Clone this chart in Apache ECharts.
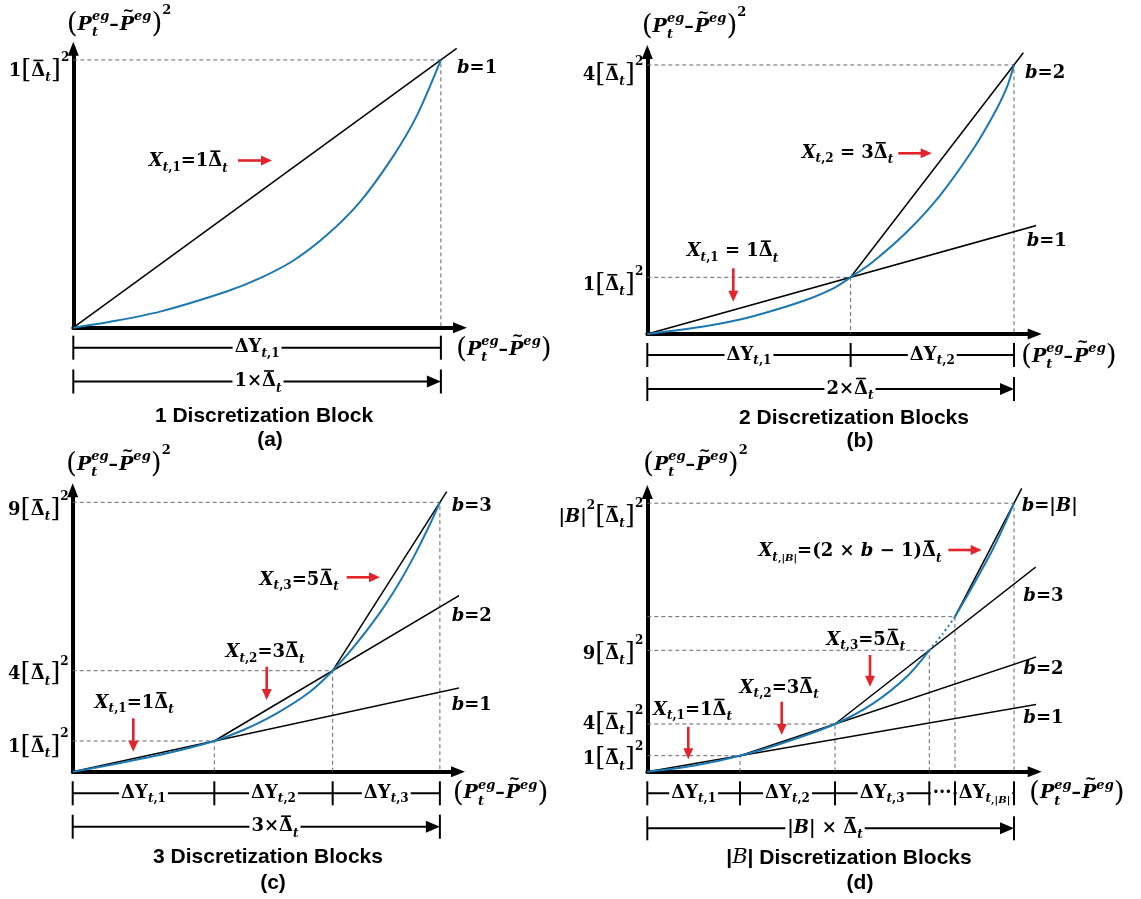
<!DOCTYPE html>
<html><head><meta charset="utf-8">
<script src="https://cdn.jsdelivr.net/npm/echarts@6/dist/echarts.min.js"></script>
<style>html,body{margin:0;padding:0;background:#fff}#c{width:1141px;height:899px}</style>
</head><body><div id="c"></div>
<script>
// ================= DATA =================
// x in units of the block width (Δ̄t), y in units of [Δ̄t]^2 (schematic)
const knotsA_x = [0, 1];
const knotsA_y = [0, 1];
const curveA = [[0,0],[0.1,0.022],[0.236,0.06],[0.417,0.135],[0.508,0.185],[0.598,0.25],[0.689,0.345],[0.780,0.47],[0.870,0.64],[0.934,0.79],[1,1]];

const knotsB_x = [0, 1.109, 2];
const knotsB_y = [0, 0.843, 4];
const curveB = [[0,0],[0.324,0.12],[0.506,0.215],[0.687,0.35],[0.869,0.51],[1.015,0.68],[1.109,0.843],[1.233,1.079],[1.415,1.516],[1.596,2.059],[1.778,2.751],[1.887,3.252],[1.960,3.661],[2,4]];

const knotsC_x = [0, 1.157, 2.124, 3];
const knotsC_y = [0, 1.026, 3.374, 9];
const curveC = [[0,0],[0.305,0.224],[0.577,0.447],[0.850,0.692],[1.157,1.026],[1.394,1.393],[1.667,1.951],[1.939,2.673],[2.124,3.374],[2.293,4.151],[2.484,5.163],[2.647,6.174],[2.783,7.153],[2.919,8.268],[3,9]];

const knotsD_x = [0, 0.986, 1.997, 3.0, 3.273, 3.901];
const knotsD_y = [0, 1.186, 3.536, 9, 11.49, 19.9];
const curveD = [[0,0],[0.489,0.445],[0.986,1.186],[1.483,2.224],[1.997,3.536],[2.404,5.07],[2.759,7.04],[3.0,9]];
const curveDgap = [[3.0,9],[3.14,10.2],[3.273,11.49]];
const curveDlast = [[3.273,11.49],[3.468,13.84],[3.681,16.56],[3.823,18.66],[3.901,19.9]];

// tangent lines: [from knot, to knot, x where the drawn line ends]
const linesA = [[0,1,1.043]];
const linesB = [[0,1,2.129],[1,2,2.051]];
const linesC = [[0,1,3.219],[1,2,3.224],[2,3,3.056]];
const linesD = [[0,1,4.142],[1,2,4.142],[2,3,4.132],[4,5,3.983]];

const bLabelsA = ['1'];
const bLabelsB = ['1','2'];
const bLabelsC = ['1','2','3'];
const bLabelsD = ['1','2','3','|B|'];

const yTicksA = ['1'];
const yTicksB = ['1','4'];
const yTicksC = ['1','4','9'];
const yTicksD = ['1','4','9',null,'|B|^2'];

// X_{t,k} annotations: [k, multiplier]
const xAnnA = [['1','1']];
const xAnnB = [['1','1'],['2','3']];
const xAnnC = [['1','1'],['2','3'],['3','5']];
const xAnnD = [['1','1'],['2','3'],['3','5'],['|B|','(2 × b − 1)']];

const segLabelsA = ['1'];
const segLabelsB = ['1','2'];
const segLabelsC = ['1','2','3'];
const segLabelsD = ['1','2','3','dots','|B|'];

const widthLabelA = '1×', widthLabelB = '2×', widthLabelC = '3×', widthLabelD = '|B| × ';
const titleA = '1 Discretization Block', titleB = '2 Discretization Blocks', titleC = '3 Discretization Blocks', titleD = '|B| Discretization Blocks';
const tags = ['(a)','(b)','(c)','(d)'];

// ================= LAYOUT (pixels) =================
const layoutA = { grid:{left:73.3, top:48.7, width:386.7, height:279}, xMax:1.052, yMax:1.042,
  yTitle:[66.7,25], xTitle:[456,350], yTickDy:[11], bPos:[[457,68.3]],
  ann:[{cx:188.3,y:161.7,sp:false,ar:['r',238,272,160.5]}],
  bar1:347.7, bar2:381.5, wlx:258, title:[264,416.7], tag:[270,440] };
const layoutB = { grid:{left:647.3, top:52, width:387.4, height:282}, xMax:2.113, yMax:4.193,
  yTitle:[641.7,27], xTitle:[1021,356.7], yTickDy:[8,10], bPos:[[1026.7,241.7],[1025,73.3]],
  ann:[{cx:732.5,y:251.7,sp:true,ar:['d',733.3,268.3,301.7]},{cx:847.5,y:153.3,sp:true,ar:['r',898.3,931.7,153.3]}],
  bar1:355, bar2:389, wlx:850, title:[854,418], tag:[860,441] };
const layoutC = { grid:{left:72.7, top:490.3, width:385.3, height:281.4}, xMax:3.148, yMax:9.402,
  yTitle:[66,465], xTitle:[452.7,793.3], yTickDy:[6,4,8], bPos:[[451.7,705],[451.7,616.7],[451.7,506.7]],
  ann:[{cx:134.2,y:703.3,ar:['d',133.3,718.3,751.7]},{cx:265,y:652.7,ar:['d',266.7,666.7,700]},{cx:299.2,y:580,ar:['r',346.7,380,577.3]}],
  bar1:793.3, bar2:826.7, wlx:275, title:[268,857.3], tag:[273,883] };
const layoutD = { grid:{left:647.3, top:492, width:387.4, height:279.7}, xMax:4.121, yMax:20.73,
  yTitle:[643,465], xTitle:[1029,793.3], yTickDy:[4,0,4,0,14], bPos:[[1023.3,718.3],[1023.3,669.3],[1023.3,596.7],[1021.7,506.7]],
  ann:[{cx:692.5,y:710,ar:['d',688.3,726.7,759.3]},{cx:779.2,y:688.3,ar:['d',781.7,701.7,735]},{cx:865.8,y:640,ar:['d',870,655,686.7]},{cx:850,y:551.7,ar:['r',948.3,981.7,550]}],
  bar1:793.3, bar2:828.3, wlx:825, title:[849,858], tag:[860,883] };

const panels = [
  {kx:knotsA_x, ky:knotsA_y, curves:[{d:curveA}], lines:linesA, bl:bLabelsA, yt:yTicksA, xa:xAnnA, segs:segLabelsA, wl:widthLabelA, title:titleA, L:layoutA},
  {kx:knotsB_x, ky:knotsB_y, curves:[{d:curveB}], lines:linesB, bl:bLabelsB, yt:yTicksB, xa:xAnnB, segs:segLabelsB, wl:widthLabelB, title:titleB, L:layoutB},
  {kx:knotsC_x, ky:knotsC_y, curves:[{d:curveC}], lines:linesC, bl:bLabelsC, yt:yTicksC, xa:xAnnC, segs:segLabelsC, wl:widthLabelC, title:titleC, L:layoutC},
  {kx:knotsD_x, ky:knotsD_y, curves:[{d:curveD},{d:curveDgap,dotted:true},{d:curveDlast}], lines:linesD, bl:bLabelsD, yt:yTicksD, xa:xAnnD, segs:segLabelsD, wl:widthLabelD, title:titleD, L:layoutD}
];

// ================= STYLE =================
const BLUE = '#1c78b0', RED = '#e3242b';
const SER = '"DejaVu Serif", serif';
const SANS = '"Liberation Sans", Arial, sans-serif';
const F = {
  mi:`italic bold 18px ${SER}`, mr:`bold 18px ${SER}`,
  si:`italic bold 12px ${SER}`, sr:`bold 12px ${SER}`,
  ti:`italic bold 10px ${SER}`, tr:`bold 10px ${SER}`,
  br:`26px ${SER}`, par:`28px ${SER}`,
  ai:`italic bold 19px ${SER}`, asi:`italic bold 13px ${SER}`, asr:`bold 13px ${SER}`, ar:`bold 19px ${SER}`,
  tt:`bold 21px ${SANS}`, ttB:`italic 21px ${SER}`
};

// ================= CHART =================
const chart = echarts.init(document.getElementById('c'), null, {renderer:'canvas', width:1141, height:899});
const axisCfg = (i, max) => ({gridIndex:i, type:'value', min:0, max, silent:true,
  axisLine:{show:true, onZero:false, symbol:['none','triangle'], symbolSize:[11,14], lineStyle:{color:'#000', width:4}},
  axisTick:{show:false}, axisLabel:{show:false}, splitLine:{show:false}});
const option = {animation:false, backgroundColor:'#fff', grid:[], xAxis:[], yAxis:[], series:[]};
panels.forEach((p,i)=>{
  const L = p.L;
  option.grid.push({left:L.grid.left, top:L.grid.top, width:L.grid.width, height:L.grid.height, containLabel:false, outerBoundsMode:'none'});
  option.xAxis.push(axisCfg(i, L.xMax));
  option.yAxis.push(axisCfg(i, L.yMax));
  const base = {type:'line', xAxisIndex:i, yAxisIndex:i, symbol:'none', silent:true, clip:false};
  for (let k=1;k<p.kx.length;k++){
    option.series.push(Object.assign({}, base, {data:[[0,p.ky[k]],[p.kx[k],p.ky[k]],[p.kx[k],0]], lineStyle:{color:'#666', width:1, type:[4,3]}, z:1}));
  }
  p.lines.forEach(([a,b,xe])=>{
    const s = (p.ky[b]-p.ky[a])/(p.kx[b]-p.kx[a]);
    option.series.push(Object.assign({}, base, {data:[[p.kx[a],p.ky[a]],[xe,p.ky[a]+s*(xe-p.kx[a])]], lineStyle:{color:'#000', width:1.5}, z:3}));
  });
  p.curves.forEach(c=>{
    option.series.push(Object.assign({}, base, {data:c.d, smooth:0.3, lineStyle:{color:BLUE, width:2, type:c.dotted?[2,3]:'solid'}, z:4}));
  });
});
chart.setOption(option);

// ================= TEXT / ANNOTATIONS =================
const mctx = document.createElement('canvas').getContext('2d');
const mw = (t,f) => { mctx.font = f; return mctx.measureText(t).width; };
const tk = (t,f,dy=0,extra={}) => Object.assign({t,f,dy}, extra);
function txt(t,x,y,f,align='left',fill='#000',z=102){
  return {type:'text', x, y, z, silent:true, style:{text:t, font:f, fill, align, textAlign:align, verticalAlign:'middle', textVerticalAlign:'middle'}};
}
function seg(x1,y1,x2,y2,w,c='#000',z=100){ return {type:'line', z, silent:true, shape:{x1,y1,x2,y2}, style:{stroke:c, lineWidth:w}}; }
function poly(pts,c,z=100){ return {type:'polygon', z, silent:true, shape:{points:pts}, style:{fill:c}}; }
function rect(x,y,w,h){ return {type:'rect', z:101, silent:true, shape:{x,y,width:w,height:h}, style:{fill:'#fff'}}; }
function mixed(s, fi, fr, dy=0){
  const out=[]; let cur='', it=null;
  for (const ch of s){ const isL=/[A-Za-z]/.test(ch); if (it!==null && isL!==it){ out.push(tk(cur, it?fi:fr, dy)); cur=''; } it=isL; cur+=ch; }
  if (cur) out.push(tk(cur, it?fi:fr, dy));
  return out;
}
function math(tokens, x, y, align){
  const ws = tokens.map(t => t.stack ? Math.max(mw(t.stack[0],t.f), mw(t.stack[1],t.f)) : mw(t.t,t.f));
  const total = ws.reduce((s,w,i)=>s+w+(tokens[i].gap||0),0);
  let cx = align==='center' ? x-total/2 : align==='right' ? x-total : x;
  const x0 = cx, els=[];
  tokens.forEach((t,i)=>{
    if (t.stack){ els.push(txt(t.stack[0], cx, y+t.dyUp, t.f)); els.push(txt(t.stack[1], cx, y+t.dyDn, t.f)); }
    else {
      els.push(txt(t.t, cx, y+(t.dy||0), t.f));
      if (t.bar) els.push(seg(cx+2, y-10.5, cx+ws[i]-2, y-10.5, 1.6, '#000', 102));
      if (t.tilde) els.push(txt('~', cx+ws[i]/2+1.5, y-14, `bold 14px ${SER}`, 'center'));
    }
    cx += ws[i] + (t.gap||0);
  });
  return {els, w: total, x0};
}
const subT = k => k==='|B|' ? [tk('t',F.si,6), tk(',|',F.tr,7), tk('B',F.ti,7), tk('|',F.tr,7)] : [tk('t',F.si,6), tk(','+k,F.sr,6)];
const dBar = () => [tk('Δ',F.mr,0,{bar:true}), tk('t',F.si,7)];
const axisTitle = sq => [tk('(',F.par), tk('P',F.ai), {stack:['eg','t'], f:F.asi, dyUp:-8, dyDn:8},
  tk('–',F.ar,0,{gap:1}), tk('P',F.ai,0,{tilde:true}), tk('eg',F.asi,-8), tk(')',F.par)].concat(sq ? [tk('2',F.asr,-14)] : []);
const xAnnTokens = (k,v,sp) => [tk('X',F.mi), ...subT(k), tk(sp?' = ':'=',F.mr), ...mixed(v,F.mi,F.mr), ...dBar()];
const bTokens = v => [tk('b',F.mi), tk('=',F.mr), ...mixed(v,F.mi,F.mr)];
const yTokens = v => {
  const sq = v.endsWith('^2'); const core = sq ? v.slice(0,-2) : v;
  return [...mixed(core,F.mi,F.mr)].concat(sq?[tk('2',F.sr,-11)]:[], [tk('[',F.br), ...dBar(), tk(']',F.br), tk('2',F.sr,-13)]);
};
const segTokens = k => k==='dots' ? [tk('···',F.mr)] : [tk('ΔY',F.mr), ...subT(k)];
const titleTokens = s => s.split(/(\|B\|)/).filter(Boolean).map(part => part==='|B|' ? [tk('|',F.tt),tk('B',F.ttB),tk('|',F.tt)] : [tk(part,F.tt)]).flat();

const G = [];
panels.forEach((p,i)=>{
  const L = p.L;
  const px = (x,y) => chart.convertToPixel({xAxisIndex:i, yAxisIndex:i}, [x,y]);
  const o = px(0,0);
  // axis titles
  G.push(...math(axisTitle(true), L.yTitle[0], L.yTitle[1], 'left').els);
  G.push(...math(axisTitle(false), L.xTitle[0], L.xTitle[1], 'left').els);
  // y tick labels
  p.yt.forEach((v,j)=>{
    if (!v) return;
    const py = px(0, p.ky[j+1])[1];
    G.push(...math(yTokens(v), o[0]-4, py + L.yTickDy[j], 'right').els);
  });
  // b labels
  p.bl.forEach((v,j)=>{ G.push(...math(bTokens(v), L.bPos[j][0], L.bPos[j][1], 'left').els); });
  // X annotations with red arrows
  p.xa.forEach(([k,v],j)=>{
    const a = L.ann[j];
    G.push(...math(xAnnTokens(k,v,!!a.sp), a.cx, a.y, 'center').els);
    const ar = a.ar;
    if (ar[0]==='r'){ G.push(seg(ar[1], ar[3], ar[2]-8, ar[3], 2.6, RED)); G.push(poly([[ar[2]-11,ar[3]-5],[ar[2],ar[3]],[ar[2]-11,ar[3]+5]], RED)); }
    else { G.push(seg(ar[1], ar[2], ar[1], ar[3]-8, 2.6, RED)); G.push(poly([[ar[1]-5,ar[3]-11],[ar[1],ar[3]],[ar[1]+5,ar[3]-11]], RED)); }
  });
  // dimension bars
  const xs = p.kx.map(x => px(x,0)[0]);
  const ox = xs[0], ex = xs[xs.length-1];
  G.push(seg(ox, L.bar1, ex, L.bar1, 2));
  xs.forEach(x => G.push(seg(x, L.bar1-12, x, L.bar1+12, 2)));
  p.segs.forEach((k,j)=>{
    const m = math(segTokens(k), (xs[j]+xs[j+1])/2, L.bar1, 'center');
    G.push(rect(m.x0-2, L.bar1-3, m.w+4, 6)); G.push(...m.els);
  });
  G.push(seg(ox, L.bar2, ex-10, L.bar2, 2));
  G.push(seg(ox, L.bar2-12, ox, L.bar2+12, 2)); G.push(seg(ex, L.bar2-12, ex, L.bar2+12, 2));
  G.push(poly([[ex-14,L.bar2-6],[ex,L.bar2],[ex-14,L.bar2+6]], '#000'));
  const wm = math([...mixed(p.wl,F.mi,F.mr), ...dBar()], L.wlx, L.bar2, 'center');
  G.push(rect(wm.x0-2, L.bar2-3, wm.w+4, 6)); G.push(...wm.els);
  // titles
  G.push(...math(titleTokens(p.title), L.title[0], L.title[1], 'center').els);
  G.push(txt(tags[i], L.tag[0], L.tag[1], F.tt, 'center'));
});
chart.setOption({graphic:{elements:G}});
</script>
</body></html>
